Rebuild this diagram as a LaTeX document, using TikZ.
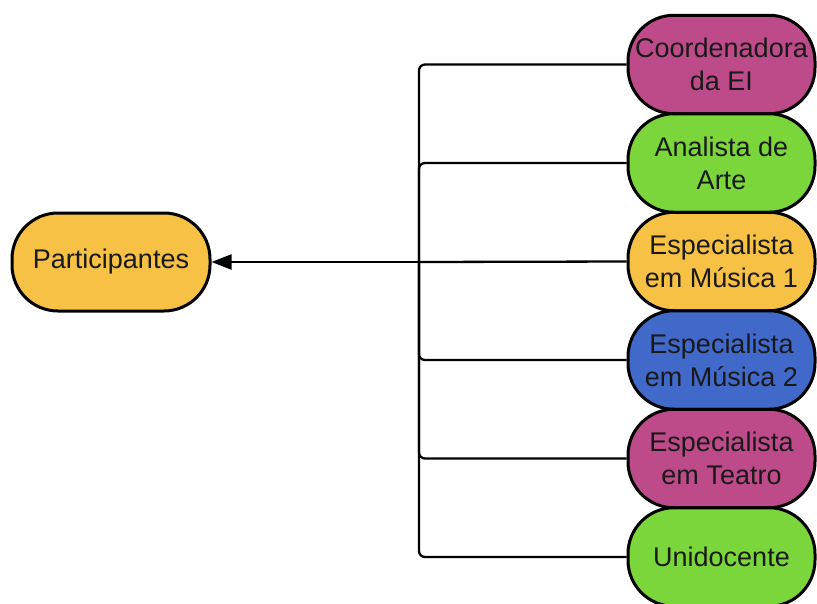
\documentclass[tikz,border=0pt]{standalone}
\usepackage{fontspec}
\setmainfont{Liberation Sans}
\usetikzlibrary{arrows.meta}
\definecolor{cpink}{RGB}{190,75,137}
\definecolor{cgreen}{RGB}{122,214,58}
\definecolor{cyellow}{RGB}{246,193,68}
\definecolor{cblue}{RGB}{65,105,201}
\tikzset{
  pill/.style={draw=black, line width=3pt, rounded corners=46pt, minimum width=187pt, minimum height=98.5pt, inner sep=0pt, align=center, font=\fontsize{27}{33}\selectfont, text=black!90},
  link/.style={line width=2.3pt, rounded corners=6pt},
}
\begin{document}
\begin{tikzpicture}[x=1pt,y=-1pt]
\useasboundingbox (0,0) rectangle (817,603);
\node[pill, fill=cyellow, minimum width=198pt, minimum height=98pt] (p) at (111,262) {Participantes};
\node[pill, fill=cpink]   (c1) at (721.5,64.5)  {Coordenadora\\da EI};
\node[pill, fill=cgreen]  (c2) at (721.5,163)   {Analista de\\Arte};
\node[pill, fill=cyellow] (c3) at (721.5,261.5) {Especialista\\em Música 1};
\node[pill, fill=cblue]   (c4) at (721.5,360)   {Especialista\\em Música 2};
\node[pill, fill=cpink]   (c5) at (721.5,458.5) {Especialista\\em Teatro};
\node[pill, fill=cgreen]  (c6) at (721.5,557)   {Unidocente};
\coordinate (j) at (419,262);
\draw[link] (c1.west) -| (j);
\draw[link] (c2.west) -| (j);
\draw[link] (c3.west) -- (j);
\draw[link] (c4.west) -| (j);
\draw[link] (c5.west) -| (j);
\draw[link] (c6.west) -| (j);
\draw[line width=2.3pt, -{Triangle[length=20pt,width=15pt]}] (j) -- (p.east);
\end{tikzpicture}
\end{document}
